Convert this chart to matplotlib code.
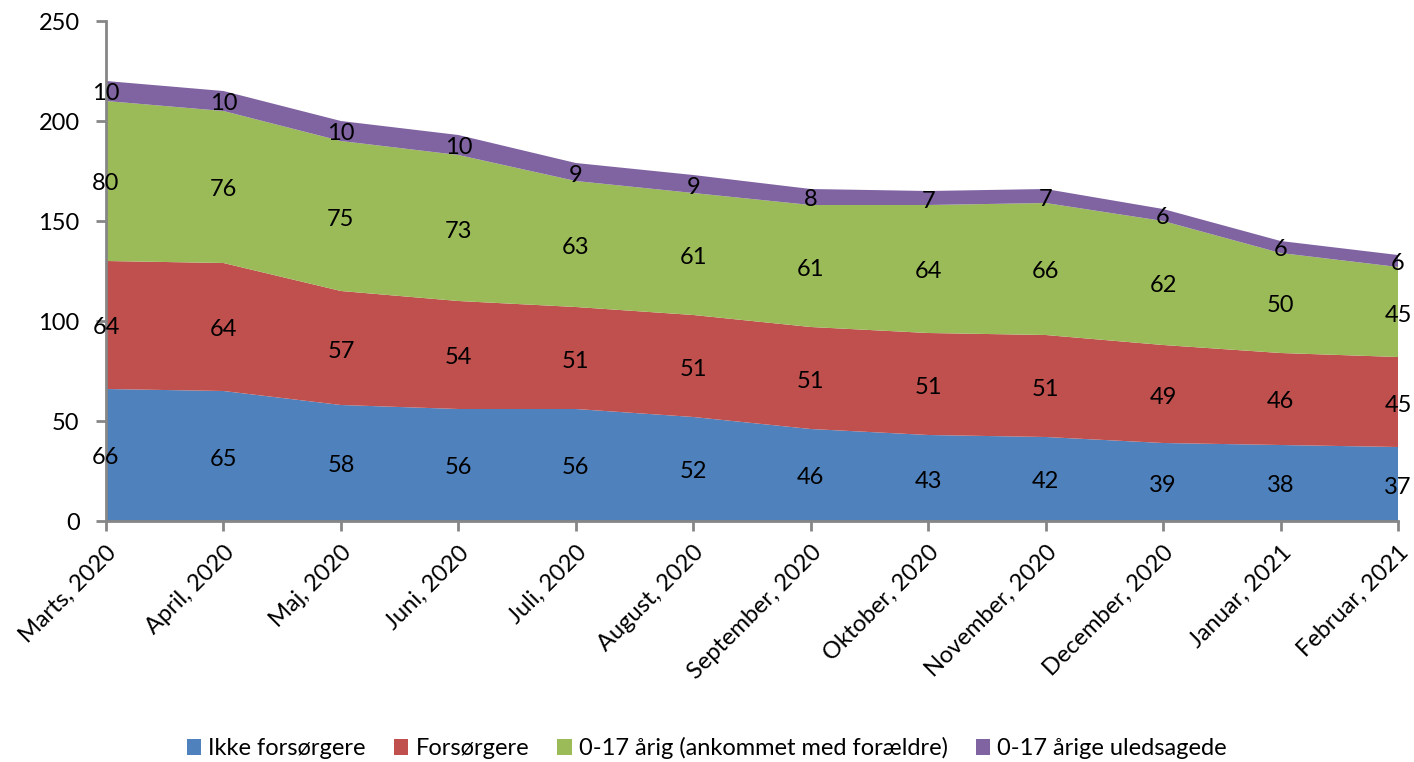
import matplotlib
matplotlib.use("Agg")
import matplotlib.pyplot as plt
import numpy as np
from matplotlib.patches import Patch

months = ["Marts, 2020", "April, 2020", "Maj, 2020", "Juni, 2020", "Juli, 2020",
          "August, 2020", "September, 2020", "Oktober, 2020", "November, 2020",
          "December, 2020", "Januar, 2021", "Februar, 2021"]
ikke_forsorgere = [66, 65, 58, 56, 56, 52, 46, 43, 42, 39, 38, 37]
forsorgere = [64, 64, 57, 54, 51, 51, 51, 51, 51, 49, 46, 45]
born_med_foraeldre = [80, 76, 75, 73, 63, 61, 61, 64, 66, 62, 50, 45]
born_uledsagede = [10, 10, 10, 10, 9, 9, 8, 7, 7, 6, 6, 6]

series_names = ["Ikke forsørgere", "Forsørgere", "0-17 årig (ankommet med forældre)",
                "0-17 årige uledsagede"]
colors = ["#4F81BD", "#C0504D", "#9BBB59", "#8064A2"]

plt.rcParams['font.family'] = ['Lato', 'DejaVu Sans']

fig = plt.figure(figsize=(14.14, 7.62), dpi=100)
ax = fig.add_axes([106/1414, 1 - 521/762, (1398-106)/1414, 500/762])

x = np.arange(len(months))
data = [ikke_forsorgere, forsorgere, born_med_foraeldre, born_uledsagede]
ax.stackplot(x, *data, colors=colors, linewidth=0)

bottom = np.zeros(len(months))
for vals in data:
    vals = np.array(vals)
    for i, v in enumerate(vals):
        ax.text(x[i], bottom[i] + v / 2 - 1.5, str(v), ha='center', va='center',
                fontsize=17, color='black')
    bottom += vals

ax.set_xlim(0, len(months) - 1)
ax.set_ylim(0, 250)
ax.set_yticks(range(0, 251, 50))
ax.set_xticks(x)
ax.set_xticklabels(months, rotation=45, ha='right', rotation_mode='anchor', fontsize=17)
ax.tick_params(axis='y', labelsize=17, length=7, color='#868686', width=2, pad=12)
ax.tick_params(axis='x', length=7, color='#868686', width=2, pad=8)
for s in ['top', 'right']:
    ax.spines[s].set_visible(False)
for s in ['left', 'bottom']:
    ax.spines[s].set_color('#868686')
    ax.spines[s].set_linewidth(2)

handles = [Patch(facecolor=c, edgecolor='none') for c in colors]
fig.legend(handles, series_names, loc='center', bbox_to_anchor=(0.5, 1 - 748/762),
           ncol=4, frameon=False, fontsize=17, handlelength=0.6, handleheight=0.7,
           handletextpad=0.3, columnspacing=1.2)

fig.savefig("out.png", dpi=100)
